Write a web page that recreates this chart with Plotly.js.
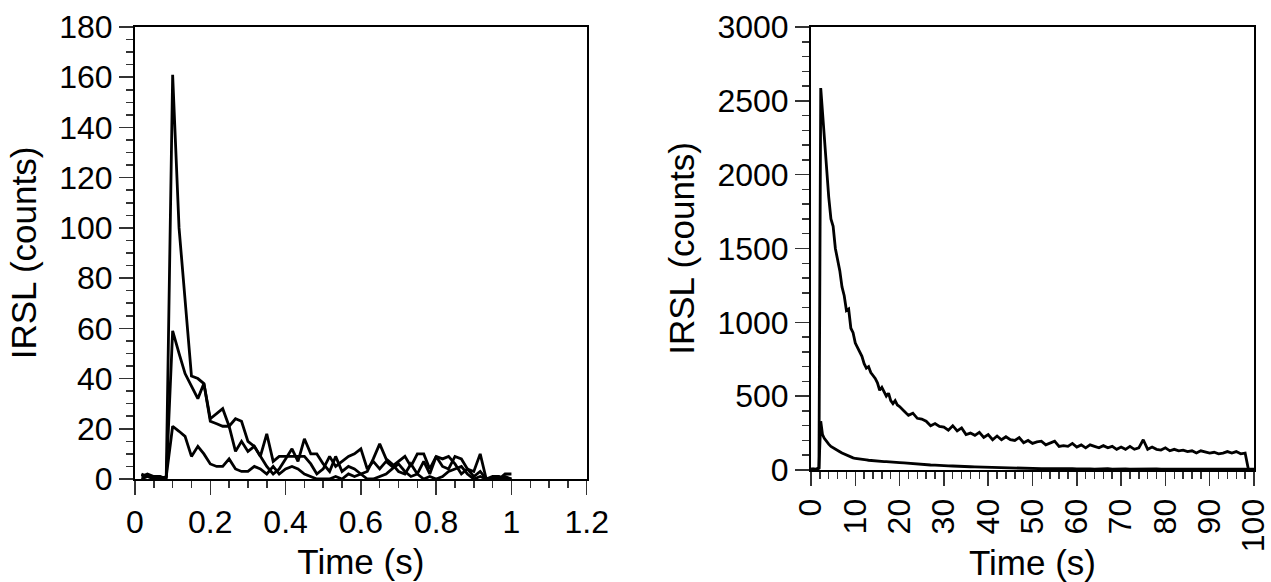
<!DOCTYPE html>
<html>
<head>
<meta charset="utf-8">
<script src="https://cdn.plot.ly/plotly-3.0.1.min.js"></script>
<style>html,body{margin:0;padding:0;background:#fff;}#chart{width:1271px;height:582px;}</style>
</head>
<body>
<div id="chart"></div>
<script>
// ---- Left panel: short IRSL measurement (1 s) ----
const leftTime = [0.017,0.033,0.05,0.067,0.083,0.1,0.117,0.133,0.15,0.167,
  0.183,0.2,0.217,0.233,0.25,0.267,0.283,0.3,0.317,0.333,
  0.35,0.367,0.383,0.4,0.417,0.433,0.45,0.467,0.483,0.5,
  0.517,0.533,0.55,0.567,0.583,0.6,0.617,0.633,0.65,0.667,
  0.683,0.7,0.717,0.733,0.75,0.767,0.783,0.8,0.817,0.833,
  0.85,0.867,0.883,0.9,0.917,0.933,0.95,0.967,0.983,1.0];
const leftA = [2,1,1,0,1, 161,100,72,41,40, 38,24,26,28,21, 24,23,15,13,9,
  18,7,9,9,9, 9,9,6,2,4, 9,5,7,9,10, 12,4,7,4,7,
  5,7,9,5,10, 10,4,9,8,9, 6,2,4,1,3, 0,0,0,2,2];
const leftB = [1,2,1,1,0, 59,50,42,37,32, 38,23,22,21,21, 11,15,11,13,9,
  5,2,4,8,12, 7,16,10,10,6, 3,9,3,5,4, 2,3,8,14,8,
  6,3,2,6,2, 7,2,9,5,4, 9,8,4,3,10, 0,1,1,0,0];
const leftC = [0,1,0,0,1, 21,19,17,9,13, 10,6,5,5,8, 4,3,3,5,4,
  2,5,2,4,5, 4,2,1,0,0, 0,1,0,2,1, 2,0,0,1,2,
  4,6,3,1,2, 0,1,0,1,3, 4,5,2,0,1, 0,0,0,1,0];

// ---- Right panel: long IRSL measurement (100 s) ----
const rightTime = [0,0.5,1,1.5,1.8,2.2,2.6,3,3.5,4,4.5,5,5.5,6,6.5,7,7.5,8,8.5,9,9.5,10,
  10.5,11,11.5,12,12.5,13,13.5,14,14.5,15,15.5,16,16.5,17,17.5,18,18.5,19,19.5,20,
  21,22,23,24,25,26,27,28,29,30,31,32,33,34,35,36,37,38,39,40,
  41,42,43,44,45,46,47,48,49,50,51,52,53,54,55,56,57,58,59,60,
  61,62,63,64,65,66,67,68,69,70,71,72,73,74,75,76,77,78,79,80,
  81,82,83,84,85,86,87,88,89,90,91,92,93,94,95,96,97,98,98.7,99,100];
const rightHigh = [5,8,4,12,15,2587,2420,2300,2070,1850,1700,1650,1500,1420,1350,1240,1180,1080,1090,960,930,860,
  830,790,770,720,690,700,660,640,620,590,540,560,530,500,520,470,450,470,440,430,
  400,370,385,350,345,330,300,315,295,290,270,300,265,285,240,250,235,255,220,240,
  205,230,205,225,205,200,220,185,200,180,190,195,170,185,195,160,165,160,180,155,
  170,150,170,160,150,165,150,160,140,155,140,160,140,150,205,140,155,140,135,150,
  130,140,130,135,125,130,115,130,120,115,120,110,115,125,115,125,110,115,10,5,5];
const rightLow = [5,3,6,8,12,330,240,215,192,175,160,150,138,130,124,115,108,100,95,88,82,78,
  75,74,72,70,68,66,64,62,63,60,58,59,57,57,55,55,53,52,51,50,
  48,45,44,40,38,37,34,33,30,29,28,27,27,25,24,22,21,20,19,18,
  17,16,15,15,13,12,12,11,12,10,11,9,10,9,8,9,10,8,9,8,
  9,7,8,6,8,7,9,6,8,7,8,6,7,5,8,7,6,7,5,6,
  6,7,5,6,6,5,6,5,4,6,5,6,5,6,4,5,5,6,4,3,3];

const FONT = 'Liberation Sans, Arial, sans-serif';
const lineStyle = {color: '#000', width: 2.8};

function axisBase(extra) {
  return Object.assign({
    showgrid: false, zeroline: false, showline: true, linewidth: 2, linecolor: '#000',
    mirror: true, ticks: 'outside', ticklen: 14, tickwidth: 1.5, tickcolor: '#333',
    tickfont: {family: FONT, size: 32, color: '#000'},
    ticklabeloverflow: 'allow',
    automargin: false
  }, extra);
}
function minorTicks(step) {
  return {ticks: 'outside', ticklen: 7, tickwidth: 1.5, tickcolor: '#333', dtick: step, showgrid: false};
}
const titleFont = {family: FONT, size: 35, color: '#000'};

const traces = [
  {x: leftTime, y: leftA, xaxis: 'x', yaxis: 'y', mode: 'lines', line: lineStyle},
  {x: leftTime, y: leftB, xaxis: 'x', yaxis: 'y', mode: 'lines', line: lineStyle},
  {x: leftTime, y: leftC, xaxis: 'x', yaxis: 'y', mode: 'lines', line: lineStyle},
  {x: rightTime, y: rightHigh, xaxis: 'x2', yaxis: 'y2', mode: 'lines', line: lineStyle},
  {x: rightTime, y: rightLow, xaxis: 'x2', yaxis: 'y2', mode: 'lines', line: lineStyle}
];

const layout = {
  width: 1271, height: 582,
  margin: {l: 135, r: 17, t: 27, b: 103},
  paper_bgcolor: '#fff', plot_bgcolor: '#fff',
  showlegend: false,
  font: {family: FONT, color: '#000'},
  xaxis: axisBase({domain: [0, 0.4037], range: [0, 1.2], tick0: 0, dtick: 0.2,
    minor: minorTicks(0.05),
    title: {text: 'Time (s)', font: titleFont, standoff: 10},
    anchor: 'y'}),
  yaxis: axisBase({domain: [0, 1], range: [0, 180], tick0: 0, dtick: 20,
    minor: minorTicks(5), ticklabelstandoff: 0,
    title: {text: 'IRSL (counts)', font: titleFont, standoff: 12},
    anchor: 'x'}),
  xaxis2: axisBase({domain: [0.6041, 1], range: [0, 100], tick0: 0, dtick: 10, tickangle: -90,
    minor: minorTicks(2), ticklabelstandoff: 0,
    title: {text: 'Time (s)', font: titleFont, standoff: 5},
    anchor: 'y2'}),
  yaxis2: axisBase({domain: [0.0199, 1], range: [0, 3000], tick0: 0, dtick: 500,
    minor: minorTicks(100), ticklabelstandoff: 0,
    title: {text: 'IRSL (counts)', font: titleFont, standoff: 12},
    anchor: 'x2'})
};

Plotly.newPlot('chart', traces, layout, {staticPlot: true, displayModeBar: false});
</script>
</body>
</html>
